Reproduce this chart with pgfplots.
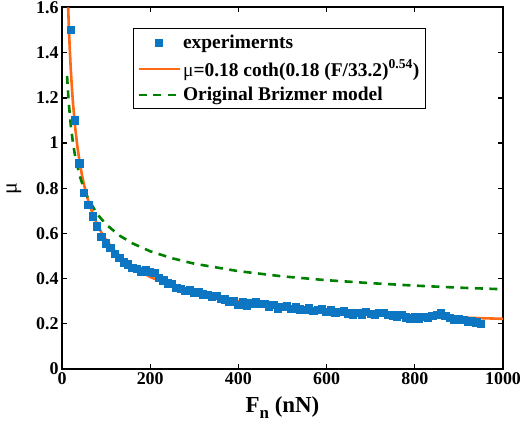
\documentclass[border=0pt]{standalone}
\usepackage{fontspec}
\setmainfont{Liberation Serif}
\usepackage{pgfplots}
\pgfplotsset{compat=1.18}
\definecolor{expblue}{RGB}{12,118,194}
\definecolor{fitorange}{RGB}{255,104,20}
\definecolor{brizgreen}{RGB}{0,128,0}
\pgfplotsset{
  mylegline/.style={legend image code/.code={\draw[##1] (0bp,0bp) -- (41bp,0bp);}},
  mylegmark/.style={legend image code/.code={\draw[##1] plot coordinates {(20.5bp,0bp)};}},
}
\begin{document}
\begin{tikzpicture}
\begin{axis}[
  scale only axis, width=441bp, height=361.5bp,
  xmin=0, xmax=1000, ymin=0, ymax=1.6,
  xtick={0,200,400,600,800,1000},
  ytick={0,0.2,0.4,0.6,0.8,1,1.2,1.4,1.6},
  scaled x ticks=false, scaled y ticks=false,
  /pgf/number format/assume math mode=true,
  /pgf/number format/1000 sep={},
  tick label style={font=\bfseries\fontsize{18}{18}\selectfont, black},
  tick align=inside, major tick length=5bp,
  tick style={black, line width=1.3bp},
  axis line style={black, line width=2bp},
  xlabel={\bfseries\fontsize{23}{23}\selectfont F\raisebox{-6bp}{\fontsize{17}{17}\selectfont n} (nN)},
  ylabel={\fontsize{22}{22}\selectfont μ},
  xlabel style={yshift=-5bp},
  ylabel style={yshift=8bp},
  clip=true,
  legend cell align=left,
  legend style={at={(rel axis cs:0.161,0.942)}, anchor=north west,
    draw=black, line width=1bp, fill=white,
    font=\bfseries\fontsize{19.5}{19.5}\selectfont,
    inner xsep=4bp, inner ysep=4.5bp, row sep=5.5bp},
]
\addplot[only marks, mark=square*, mark size=3.7bp, color=expblue,
  mark options={draw=expblue, fill=expblue, line width=0pt}, mylegmark]
coordinates {
(20,1.50)(30,1.10)(40,0.91)(50,0.78)(60,0.725)(70,0.675)(80,0.630)(90,0.585)
(100,0.555)(110,0.535)(120,0.510)(130,0.492)(140,0.472)(150,0.462)(160,0.448)
(170,0.442)(180,0.432)(190,0.436)(200,0.428)(210,0.425)(220,0.402)(230,0.392)
(240,0.378)(250,0.375)(260,0.358)(270,0.354)(280,0.345)(290,0.348)(300,0.338)
(310,0.340)(320,0.330)(330,0.327)(340,0.318)(350,0.322)(360,0.310)(370,0.307)
(380,0.298)(390,0.300)(400,0.282)(410,0.294)(420,0.280)(430,0.290)(440,0.294)
(450,0.288)(460,0.287)(470,0.275)(480,0.284)(490,0.268)(500,0.274)(510,0.276)
(520,0.266)(530,0.272)(540,0.263)(550,0.260)(560,0.270)(570,0.258)(580,0.260)
(590,0.264)(600,0.253)(610,0.260)(620,0.250)(630,0.252)(640,0.256)(650,0.246)
(660,0.241)(670,0.249)(680,0.238)(690,0.252)(700,0.244)(710,0.241)(720,0.248)
(730,0.249)(740,0.240)(750,0.236)(760,0.230)(770,0.240)(780,0.228)(790,0.224)
(800,0.230)(810,0.220)(820,0.231)(830,0.226)(840,0.234)(850,0.240)(860,0.247)
(870,0.234)(880,0.226)(890,0.219)(900,0.220)(910,0.216)(920,0.209)(930,0.212)
(940,0.205)(950,0.200)
};
\addlegendentry{experimernts}
\addplot[no marks, color=fitorange, line width=2.6bp, mylegline]
coordinates {
(14,1.601)(15,1.543)(17.5,1.421)(20,1.323)(22.5,1.243)(25,1.175)(30,1.067)
(35,0.983)(40,0.916)(45,0.861)(50,0.815)(60,0.741)(70,0.685)(80,0.639)
(90,0.602)(100,0.571)(120,0.521)(150,0.467)(200,0.407)(250,0.368)(300,0.339)
(350,0.318)(400,0.301)(500,0.276)(600,0.259)(700,0.246)(800,0.236)(900,0.228)
(1000,0.222)
};
\addlegendentry{{\mdseries μ}=0.18 coth(0.18 (F/33.2)\textsuperscript{0.54})}
\addplot[no marks, color=brizgreen, line width=2.6bp, dash pattern=on 8bp off 6.5bp, mylegline]
coordinates {
(11.5,1.297)(15,1.186)(20,1.077)(25,0.999)(30,0.940)(40,0.856)(50,0.796)
(60,0.751)(80,0.685)(100,0.640)(130,0.591)(160,0.556)(200,0.521)(250,0.490)
(300,0.466)(400,0.433)(500,0.410)(600,0.393)(700,0.380)(800,0.369)(900,0.360)
(1000,0.353)
};
\addlegendentry{Original Brizmer model}
\end{axis}
\pgfresetboundingbox
\path[use as bounding box] ([shift={(-62bp,-62bp)}]current axis.south west) rectangle ++(522bp,431bp);
\end{tikzpicture}
\end{document}
